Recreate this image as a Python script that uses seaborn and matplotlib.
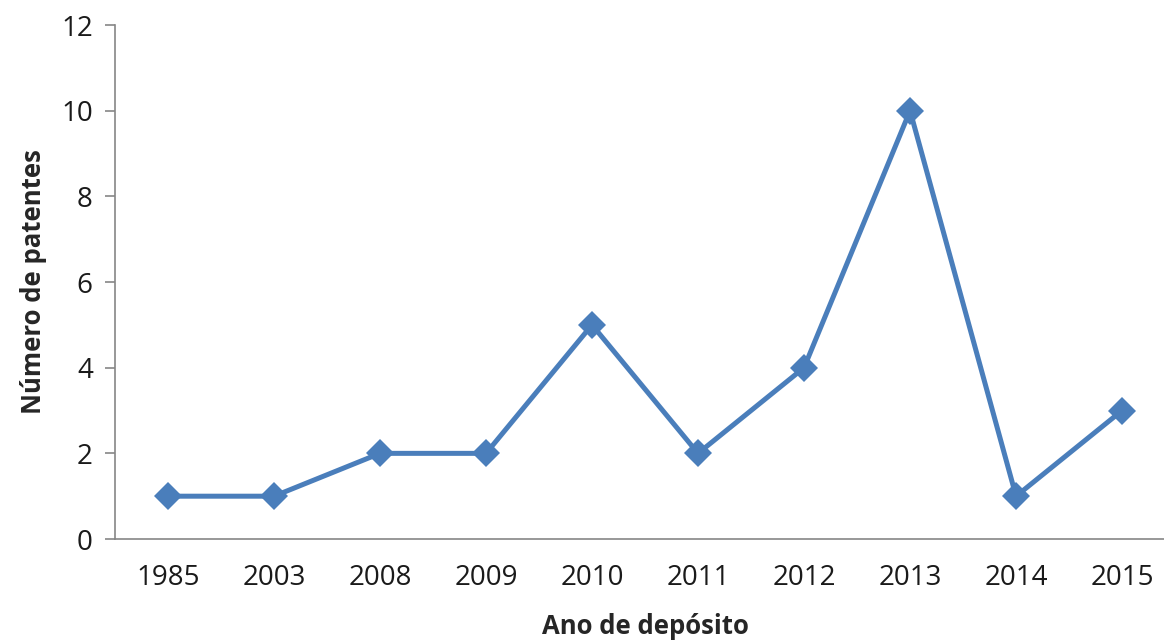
import matplotlib
matplotlib.use("Agg")
import matplotlib.pyplot as plt
import seaborn as sns
import pandas as pd

years = ["1985", "2003", "2008", "2009", "2010", "2011", "2012", "2013", "2014", "2015"]
patents = [1, 1, 2, 2, 5, 2, 4, 10, 1, 3]
y_ticks = [0, 2, 4, 6, 8, 10, 12]

sns.set_theme(style="white")
plt.rcParams["font.family"] = ["Open Sans", "DejaVu Sans"]

df = pd.DataFrame({"ano": years, "n": patents})

fig = plt.figure(figsize=(11.64, 6.42), dpi=100)
ax = fig.add_axes([0.0988, 0.1604, 0.9107, 0.8006])

line_color = "#4A7EBB"
sns.lineplot(data=df, x="ano", y="n", sort=False, ax=ax, color=line_color,
             linewidth=3.6, marker="D", markersize=14, markeredgewidth=0,
             markerfacecolor=line_color)

ax.set_xlim(-0.5, len(years) - 0.5)
ax.set_ylim(0, 12)
ax.set_yticks(y_ticks)

for side in ("top", "right"):
    ax.spines[side].set_visible(False)
for side in ("left", "bottom"):
    ax.spines[side].set_color("#868686")
    ax.spines[side].set_linewidth(1.2)

ax.tick_params(axis="y", which="major", direction="out", length=7, width=1.2,
               color="#868686", labelsize=20, labelcolor="#1a1a1a", pad=9, left=True)
ax.tick_params(axis="x", which="major", length=0, labelsize=20,
               labelcolor="#1a1a1a", pad=18)

ax.set_xlabel("Ano de depósito", fontsize=18.5, fontweight="bold", labelpad=15)
ax.set_ylabel("Número de patentes", fontsize=18.5, fontweight="bold", labelpad=10)

fig.savefig("out.png", dpi=100)
